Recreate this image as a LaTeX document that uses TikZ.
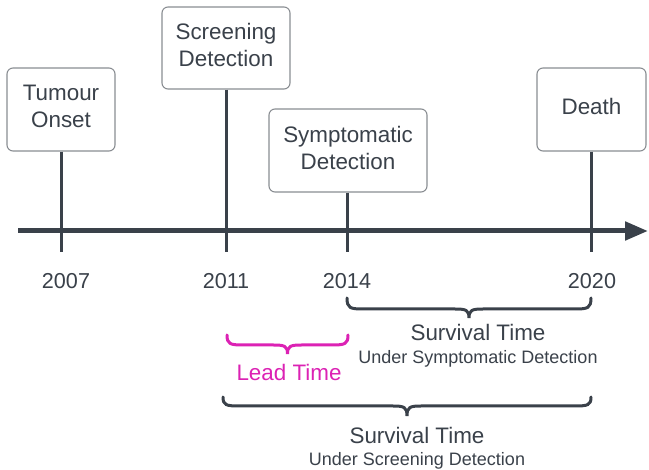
\documentclass[tikz,border=0pt]{standalone}
\usepackage{fontspec}
\setmainfont{Liberation Sans}
\usetikzlibrary{arrows.meta,calc}
\definecolor{ink}{HTML}{3A414A}
\definecolor{boxline}{HTML}{8A8E93}
\definecolor{leadmag}{HTML}{DC22B4}
% curly brace opening downwards: x1, x2, top y, middle y, tip y
\newcommand\timebrace[5]{%
  \path let \n1={(#1+#2)/2} in coordinate (bc) at (\n1,#4);
  \draw[bracestyle] (#1,#3) .. controls (#1,{#4-1}) and ({#1+3},#4) .. ({#1+16},#4)
    -- ($(bc)+(-14,0)$) .. controls ($(bc)+(-3,0)$) and ($(bc)+(0,1)$) .. ($(bc)+(0,#5-#4)$)
    .. controls ($(bc)+(0,1)$) and ($(bc)+(3,0)$) .. ($(bc)+(14,0)$)
    -- ({#2-16},#4) .. controls ({#2-3},#4) and (#2,{#4-1}) .. (#2,#3);}
\begin{document}
\begin{tikzpicture}[x=1pt,y=-1pt,
  event/.style={draw=boxline,line width=1.1pt,rounded corners=6pt,fill=white,inner sep=0pt},
  eventtext/.style={align=center,text=ink,font=\fontsize{22.4}{27}\selectfont,inner sep=0pt},
  stem/.style={draw=ink,line width=3pt},
  yearlabel/.style={text=ink,font=\fontsize{21.6}{26}\selectfont,inner sep=0pt},
  bigtext/.style={text=ink,font=\fontsize{22.4}{27}\selectfont,inner sep=0pt},
  smalltext/.style={text=ink,font=\fontsize{18}{22}\selectfont,inner sep=0pt},
  bracestyle/.style={draw=ink,line width=3pt,line cap=round}]
\useasboundingbox (0,0) rectangle (649,470);
\fill[white] (0,0) rectangle (649,470);

% event boxes
\node[event,minimum width=108pt,minimum height=83pt] (onset) at (61,109.5) {};
\node[event,minimum width=128pt,minimum height=82pt] (screen) at (226,48) {};
\node[event,minimum width=158pt,minimum height=83pt] (sympt) at (348,150.5) {};
\node[event,minimum width=109pt,minimum height=83pt] (death) at (591.5,109.5) {};
\node[eventtext] (onsettxt) at ($(onset)+(0,-3)$) {Tumour\\Onset};
\node[eventtext] (screentxt) at ($(screen)+(0,-3)$) {Screening\\Detection};
\node[eventtext] (sympttxt) at ($(sympt)+(0,-3)$) {Symptomatic\\Detection};
\node[eventtext] (deathtxt) at ($(death)+(0,-3)$) {Death};

% tick ends below the axis
\coordinate (t07) at (61,252);
\coordinate (t11) at (226,252);
\coordinate (t14) at (347,252);
\coordinate (t20) at (591,252);

% stems
\draw[stem] (onset.south -| t07) -- (t07);
\draw[stem] (screen.south -| t11) -- (t11);
\draw[stem] (sympt.south -| t14) -- (t14);
\draw[stem] (death.south -| t20) -- (t20);

% time axis
\coordinate (axstart) at (18,231);
\coordinate (axend) at (648,231);
\draw[draw=ink,line width=5pt,-{Triangle[length=23pt,width=18pt]}] (axstart) -- (axend);

% years
\node[yearlabel] (y07) at (66,281) {2007};
\node[yearlabel] (y11) at (226,281) {2011};
\node[yearlabel] (y14) at (347,281) {2014};
\node[yearlabel] (y20) at (592,281) {2020};

% braces
\timebrace{347}{591}{298}{309}{318}
\node[bigtext] (surv1) at (478,332) {Survival Time};
\node[smalltext] (surv1b) at (478,359) {Under Symptomatic Detection};

\begingroup
\tikzset{bracestyle/.style={draw=leadmag,line width=3pt,line cap=round}}
\timebrace{227}{348}{335}{345}{354}
\endgroup
\node[bigtext,text=leadmag] (lead) at (289,372) {Lead Time};

\timebrace{223}{591}{397}{406}{416}
\node[bigtext] (surv2) at (417,435) {Survival Time};
\node[smalltext] (surv2b) at (417,461) {Under Screening Detection};
\end{tikzpicture}
\end{document}
